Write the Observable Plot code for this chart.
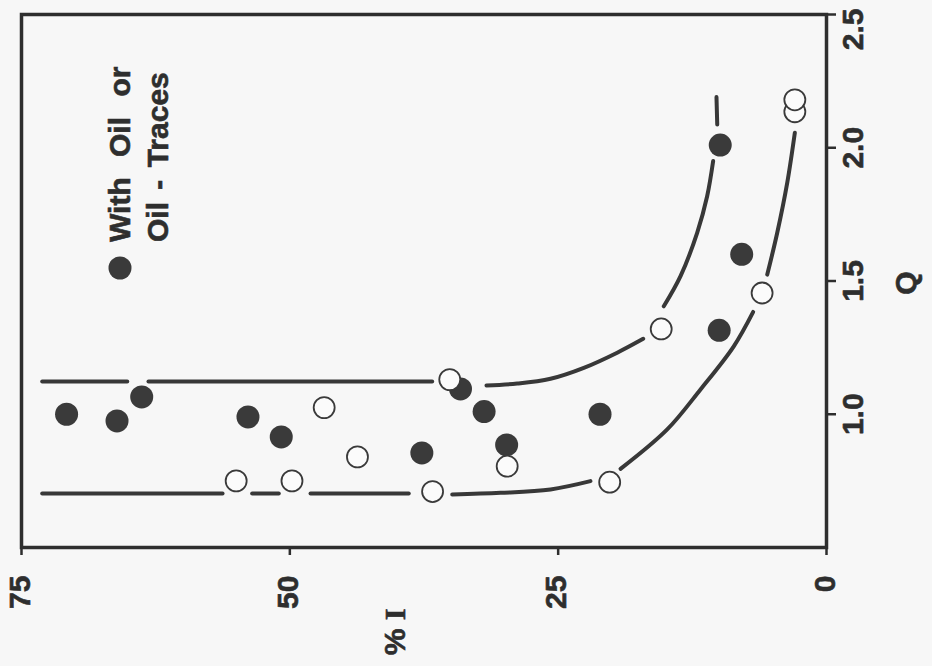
<!DOCTYPE html>
<html><head><meta charset="utf-8">
<script src="https://cdn.jsdelivr.net/npm/d3@7"></script>
<script src="https://cdn.jsdelivr.net/npm/@observablehq/plot@0.6"></script>
<style>
html,body{margin:0;padding:0;background:#f7f7f7;}
#chart{position:relative;width:932px;height:666px;}
</style></head><body><div id="chart"></div>
<script>
// ---- data ----
// filled circles: "With Oil or Oil - Traces"
const filledI = [70.8, 66.1, 63.8, 53.9, 50.8, 37.7, 34.1, 31.9, 29.8, 21.1, 9.9, 10.0, 7.9];
const filledQ = [1.00, 0.975, 1.065, 0.99, 0.915, 0.855, 1.095, 1.01, 0.885, 1.00, 2.01, 1.315, 1.60];
// open circles
const openI = [55.0, 49.8, 46.8, 43.7, 36.7, 35.1, 29.75, 20.2, 15.4, 6.0, 2.95, 2.95];
const openQ = [0.75, 0.75, 1.025, 0.84, 0.71, 1.13, 0.805, 0.745, 1.32, 1.455, 2.135, 2.18];
// upper boundary curve (broken into segments)
const upperSeg = [1,1, 2,2, 3,3,3,3,3,3, 4,4,4,4,4, 5,5];
const upperI = [73.07,65.15, 63.17,36.74, 31.68,28.82,25.71,22.61,19.5,17.08, 15.16,13.6,12.05,11.12,10.56, 10.18,10.25];
const upperQ = [1.123,1.123, 1.123,1.123, 1.108,1.115,1.133,1.174,1.231,1.283, 1.405,1.518,1.681,1.818,1.95, 2.087,2.19];
// lower boundary curve (broken into segments)
const lowerSeg = [1,1, 2,2, 3,3, 4,4,4,4, 5,5,5,5,5, 6,6,6,6];
const lowerI = [73.07,56.27, 53.51,51.03, 48.07,38.92, 34.87,30.37,25.71,21.99, 19.19,14.84,11.74,8.64,6.83, 5.52,4.59,3.66,2.95];
const lowerQ = [0.703,0.703, 0.703,0.703, 0.703,0.703, 0.699,0.705,0.718,0.749, 0.795,0.943,1.093,1.255,1.384, 1.524,1.681,1.868,2.056];
// ticks
const iTicks = [75, 50, 25, 0];
const iTickLabels = ["75", "50", "25", "0"];
const qTicks = [1.0, 1.5, 2.0, 2.5];
const qTickLabels = ["1.0", "1.5", "2.0", "2.5"];
const xTitle = ["% ", "I"];
const yTitle = "Q";
const legendLines = ["With Oil or", "Oil - Traces"];

// ---- build tables ----
const filled = filledI.map((v, i) => ({I: v, Q: filledQ[i]}));
const open = openI.map((v, i) => ({I: v, Q: openQ[i]}));
const upper = upperI.map((v, i) => ({I: v, Q: upperQ[i], s: upperSeg[i]}));
const lower = lowerI.map((v, i) => ({I: v, Q: lowerQ[i], s: lowerSeg[i]}));
const qt = qTicks.map((v, i) => ({v, t: qTickLabels[i]}));
const it = iTicks.map((v, i) => ({v, t: iTickLabels[i]}));

const INK = "#2e2e2e";
const FONT = "'Liberation Sans', Arial, Helvetica, sans-serif";
const lab = {fontSize: 30, fontWeight: "bold", fill: INK, stroke: INK, strokeWidth: 0.6, rotate: -90};

const chart = Plot.plot({
  width: 932, height: 666,
  marginLeft: 21, marginRight: 106, marginTop: 14, marginBottom: 119,
  style: {background: "transparent", fontFamily: FONT},
  x: {domain: [0, 75], reverse: true, axis: null},
  y: {domain: [0.5, 2.5], axis: null},
  marks: [
    Plot.axisX({anchor: "bottom", ticks: iTicks, tickSize: 8, tickFormat: () => "", label: null, stroke: INK, strokeWidth: 2.5}),
    Plot.axisY({anchor: "right", ticks: qTicks, tickSize: 9, tickFormat: () => "", label: null, stroke: INK, strokeWidth: 2.5}),
    Plot.frame({stroke: INK, strokeWidth: 3.5}),
    Plot.line(upper, {x: "I", y: "Q", z: "s", curve: "catmull-rom", stroke: "#383838", strokeWidth: 4, strokeLinecap: "round"}),
    Plot.line(lower, {x: "I", y: "Q", z: "s", curve: "catmull-rom", stroke: "#383838", strokeWidth: 4, strokeLinecap: "round"}),
    Plot.dot(filled, {x: "I", y: "Q", r: 11.5, fill: "#3a3a3a", stroke: "none"}),
    Plot.dot(open, {x: "I", y: "Q", r: 10.5, fill: "#fbfbfb", stroke: "#3a3a3a", strokeWidth: 1.8}),
    Plot.text(it, {x: "v", text: "t", frameAnchor: "bottom", dy: 28, dx: 8, textAnchor: "end", ...lab}),
    Plot.text(qt.filter(d => d.v < 2.5), {y: "v", text: "t", frameAnchor: "right", dx: 27, textAnchor: "middle", ...lab}),
    Plot.text(qt.filter(d => d.v >= 2.5), {y: "v", text: "t", frameAnchor: "right", dx: 27, dy: -6, textAnchor: "end", ...lab})
  ]
});
document.getElementById("chart").appendChild(chart);

// titles and legend
const svg = d3.select(chart);
const g = svg.append("g").attr("fill", INK).attr("stroke", INK).attr("stroke-width", 0.6)
  .style("font-family", FONT).style("font-weight", "bold");
const xt = g.append("text").attr("transform", "translate(394,632) rotate(-90)")
  .attr("text-anchor", "middle").attr("dy", "0.35em").attr("font-size", 30);
xt.append("tspan").text(xTitle[0]);
xt.append("tspan").style("font-family", "'Liberation Serif', 'Times New Roman', serif").text(xTitle[1]);
g.append("text").attr("transform", "translate(905,283) rotate(-90)")
  .attr("text-anchor", "middle").attr("dy", "0.35em").attr("font-size", 30).text(yTitle);
g.append("circle").attr("cx", 120).attr("cy", 268).attr("r", 11.5).attr("fill", "#3a3a3a").attr("stroke", "none");
g.append("text").attr("transform", "translate(130,242) rotate(-90)").attr("text-anchor", "start")
  .attr("font-size", 30).style("word-spacing", "12px").text(legendLines[0]);
g.append("text").attr("transform", "translate(168,242) rotate(-90)").attr("text-anchor", "start")
  .attr("font-size", 30).style("word-spacing", "4px").text(legendLines[1]);
</script>
</body></html>
